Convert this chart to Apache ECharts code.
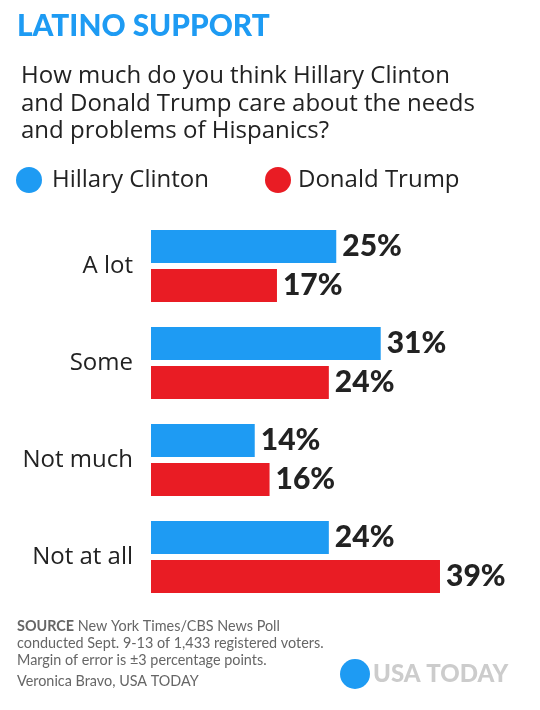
<!DOCTYPE html>
<html><head><meta charset="utf-8">
<script src="https://cdn.jsdelivr.net/npm/echarts@6/dist/echarts.min.js"></script>
<style>html,body{margin:0;padding:0;background:#fff}#c{width:540px;height:710px}</style>
</head><body><div id="c"></div>
<script>
const categories = ['A lot', 'Some', 'Not much', 'Not at all'];
const clinton = [25, 31, 14, 24];
const trump = [17, 24, 16, 39];
const seriesNames = ['Hillary Clinton', 'Donald Trump'];
const titleText = 'LATINO SUPPORT';
const subtitleLines = ['How much do you think Hillary Clinton', 'and Donald Trump care about the needs', 'and problems of Hispanics?'];
const footerLines = ['New York Times/CBS News Poll', 'conducted Sept. 9-13 of 1,433 registered voters.', 'Margin of error is ±3 percentage points.', 'Veronica Bravo, USA TODAY'];

const F = 'Lato, "Noto Sans", sans-serif';
const G = '"Open Sans", "Noto Sans", sans-serif';
const BLUE = '#1e9bf3', RED = '#e91c24', DARK = '#222';

const mctx = document.createElement('canvas').getContext('2d');
function fit(text, weight, family, target) {
  mctx.font = weight + ' 100px ' + family;
  return Math.round(1000 * target / mctx.measureText(text).width) / 10;
}
const sTitle = Math.min(31, fit(titleText, 900, F, 253));
const sSub = Math.min(24, fit(subtitleLines[0], 'normal', G, 437));
const sLeg = Math.min(24, fit(seriesNames[0], 'normal', G, 166));
const sCat = Math.min(24, fit('Not much', 'normal', G, 114));
const sVal = Math.min(30, fit('24%', 900, F, 60));
const sFoot = Math.min(16, fit(footerLines[1], 'normal', F, 306));
const sLogo = Math.min(28, fit('USA TODAY', 900, F, 135));

const chart = echarts.init(document.getElementById('c'), null, {renderer: 'canvas'});
const lbl = {show: true, position: 'right', distance: 6, formatter: '{c}%', fontFamily: F, fontSize: sVal, fontWeight: 900, color: DARK};

const graphics = [
  {type: 'text', x: 17, y: 26, style: {text: titleText, font: '900 ' + sTitle + 'px ' + F, fill: BLUE, verticalAlign: 'middle'}}
];
[76.5, 104, 131.5].forEach((y, i) => graphics.push(
  {type: 'text', x: 21, y: y, style: {text: subtitleLines[i], font: sSub + 'px ' + G, fill: DARK, verticalAlign: 'middle'}}));
[626, 643, 660, 681].forEach((y, i) => graphics.push(
  {type: 'text', x: 17, y: y, style: {
    text: i === 0 ? '{b|SOURCE} ' + footerLines[0] : footerLines[i],
    rich: {b: {fontFamily: F, fontSize: sFoot, fontWeight: 'bold', fill: '#666'}},
    font: sFoot + 'px ' + F, fill: '#666', verticalAlign: 'middle'}}));
graphics.push({type: 'circle', shape: {cx: 355, cy: 674, r: 15}, style: {fill: BLUE}});
graphics.push({type: 'text', x: 373, y: 674, style: {text: 'USA TODAY', font: '900 ' + sLogo + 'px ' + F, fill: '#cccccc', verticalAlign: 'middle'}});

chart.setOption({
  animation: false,
  legend: [
    {data: [seriesNames[0]], left: 16, top: 167, padding: 0, icon: 'circle', itemWidth: 26, itemHeight: 26,
     textStyle: {fontFamily: G, fontSize: sLeg, color: DARK, padding: [0, 0, 0, 5]}},
    {data: [seriesNames[1]], left: 265, top: 167, padding: 0, icon: 'circle', itemWidth: 26, itemHeight: 26,
     textStyle: {fontFamily: G, fontSize: sLeg, color: DARK, padding: [0, 0, 0, 2]}}
  ],
  grid: {left: 151, top: 217.5, height: 388, right: 18.5, containLabel: false},
  xAxis: {type: 'value', min: 0, max: 50, show: false},
  yAxis: {type: 'category', data: categories, inverse: true,
    axisLine: {show: false}, axisTick: {show: false}, splitLine: {show: false},
    axisLabel: {fontFamily: G, fontSize: sCat, color: DARK, margin: 18}},
  series: [
    {name: seriesNames[0], type: 'bar', data: clinton, barWidth: 33, barGap: '18%', itemStyle: {color: BLUE}, label: lbl},
    {name: seriesNames[1], type: 'bar', data: trump, barWidth: 33, itemStyle: {color: RED}, label: lbl}
  ],
  graphic: graphics
});
</script></body></html>
